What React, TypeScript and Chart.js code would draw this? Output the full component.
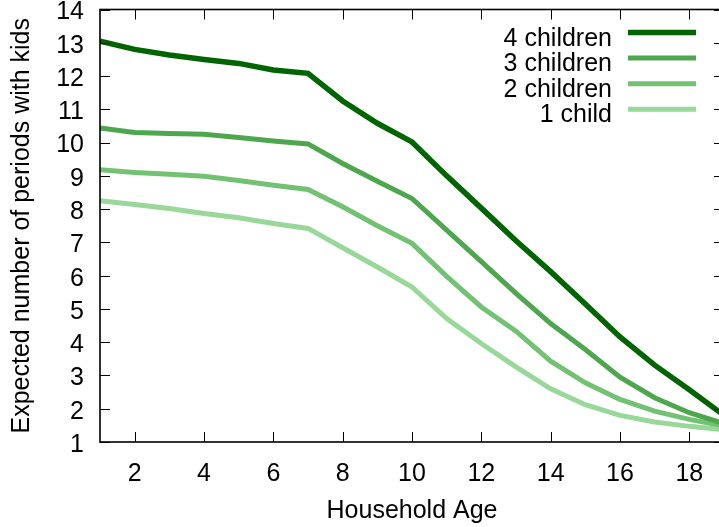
import React, { useEffect, useRef } from "react";
import { Chart, registerables } from "chart.js";

Chart.register(...registerables);

const ages = [1, 2, 3, 4, 5, 6, 7, 8, 9, 10, 11, 12, 13, 14, 15, 16, 17, 18, 19];
const fourChildren = [13.05, 12.8, 12.63, 12.5, 12.38, 12.18, 12.08, 11.25, 10.58, 10.02, 9.0, 8.03, 7.05, 6.12, 5.15, 4.16, 3.31, 2.57, 1.8];
const threeChildren = [10.44, 10.3, 10.27, 10.25, 10.15, 10.05, 9.96, 9.37, 8.84, 8.32, 7.37, 6.42, 5.47, 4.56, 3.78, 2.95, 2.33, 1.88, 1.55];
const twoChildren = [9.18, 9.1, 9.05, 8.99, 8.86, 8.72, 8.59, 8.07, 7.5, 6.97, 5.98, 5.06, 4.33, 3.43, 2.78, 2.28, 1.93, 1.68, 1.48];
const oneChild = [8.25, 8.14, 8.02, 7.87, 7.74, 7.57, 7.42, 6.84, 6.26, 5.66, 4.71, 3.96, 3.26, 2.6, 2.12, 1.8, 1.6, 1.47, 1.37];

const seriesLabels = ["4 children", "3 children", "2 children", "1 child"];
const seriesColors = ["#006400", "#4ea64e", "#73c273", "#98d898"];
const xTickValues = [2, 4, 6, 8, 10, 12, 14, 16, 18];
const yTickValues = [1, 2, 3, 4, 5, 6, 7, 8, 9, 10, 11, 12, 13, 14];

const FONT = "'Liberation Sans', Arial, Helvetica, sans-serif";

const framePlugin = {
  id: "frame",
  afterDraw(chart: any) {
    const { ctx, chartArea } = chart;
    const { left, right, top, bottom } = chartArea;
    const xs = chart.scales.x;
    const ys = chart.scales.y;
    ctx.save();
    ctx.strokeStyle = "#000";
    ctx.lineWidth = 1;
    const tl = 10;
    for (const v of xTickValues) {
      const px = Math.round(xs.getPixelForValue(v)) + 0.5;
      ctx.beginPath();
      ctx.moveTo(px, bottom);
      ctx.lineTo(px, bottom - tl);
      ctx.moveTo(px, top);
      ctx.lineTo(px, top + tl);
      ctx.stroke();
    }
    for (const v of yTickValues) {
      const py = Math.round(ys.getPixelForValue(v)) + 0.5;
      ctx.beginPath();
      ctx.moveTo(left, py);
      ctx.lineTo(left + tl, py);
      ctx.moveTo(right, py);
      ctx.lineTo(right - tl, py);
      ctx.stroke();
    }
    ctx.lineWidth = 1.6;
    ctx.strokeRect(left, top, right - left, bottom - top);

    // legend
    ctx.font = `25px ${FONT}`;
    ctx.fillStyle = "#000";
    ctx.textAlign = "right";
    ctx.textBaseline = "alphabetic";
    const rowY0 = 32.5;
    const rowGap = 25.6;
    seriesLabels.forEach((lab, i) => {
      const y = rowY0 + i * rowGap;
      ctx.fillText(lab, 612, y + 13);
      ctx.strokeStyle = seriesColors[i];
      ctx.lineWidth = i === 0 ? 5.5 : 5;
      ctx.beginPath();
      ctx.moveTo(628, y);
      ctx.lineTo(696, y);
      ctx.stroke();
    });
    ctx.restore();
  },
};

export default function App() {
  const ref = useRef<HTMLCanvasElement | null>(null);
  useEffect(() => {
    if (!ref.current) return;
    const allSeries = [fourChildren, threeChildren, twoChildren, oneChild];
    const chart = new Chart(ref.current, {
      type: "line",
      data: {
        datasets: allSeries.map((s, i) => ({
          label: seriesLabels[i],
          data: ages.map((a, j) => ({ x: a, y: s[j] })),
          borderColor: seriesColors[i],
          backgroundColor: seriesColors[i],
          borderWidth: i === 0 ? 5.5 : 5,
          pointRadius: 0,
          tension: 0,
          fill: false,
        })),
      },
      options: {
        responsive: false,
        animation: false,
        devicePixelRatio: 1,
        layout: { padding: { top: 9.5, right: 36, left: 0, bottom: 0 } },
        plugins: { legend: { display: false }, tooltip: { enabled: false } },
        scales: {
          x: {
            type: "linear",
            min: 1,
            max: 19,
            grid: { display: false, drawTicks: false },
            border: { display: false },
            afterBuildTicks: (s: any) => {
              s.ticks = xTickValues.map((v) => ({ value: v }));
            },
            afterFit: (s: any) => {
              s.height = 85;
              s.paddingLeft = 0;
              s.paddingRight = 0;
            },
            ticks: {
              color: "#000",
              font: { family: FONT, size: 25 },
              padding: 17,
              maxRotation: 0,
              autoSkip: false,
            },
            title: {
              display: true,
              text: "Household Age",
              color: "#000",
              font: { family: FONT, size: 25 },
              padding: { top: 0, bottom: 1 },
            },
          },
          y: {
            type: "linear",
            min: 1,
            max: 14,
            grid: { display: false, drawTicks: false },
            border: { display: false },
            afterBuildTicks: (s: any) => {
              s.ticks = yTickValues.map((v) => ({ value: v }));
            },
            afterFit: (s: any) => {
              s.width = 100;
              s.paddingTop = 0;
              s.paddingBottom = 0;
            },
            ticks: {
              color: "#000",
              font: { family: FONT, size: 25 },
              padding: 16,
              labelOffset: 3,
              autoSkip: false,
            },
            title: {
              display: true,
              text: "Expected number of periods with kids",
              color: "#000",
              font: { family: FONT, size: 25 },
              padding: { top: 7, bottom: 0 },
            },
          },
        },
      },
      plugins: [framePlugin],
    });
    return () => chart.destroy();
  }, []);
  return (
    <div
      style={{
        position: "fixed",
        left: 0,
        top: 0,
        width: 719,
        height: 527,
        overflow: "hidden",
        background: "#fff",
      }}
    >
      <canvas ref={ref} width={760} height={527} style={{ display: "block", width: 760, height: 527 }} />
    </div>
  );
}
